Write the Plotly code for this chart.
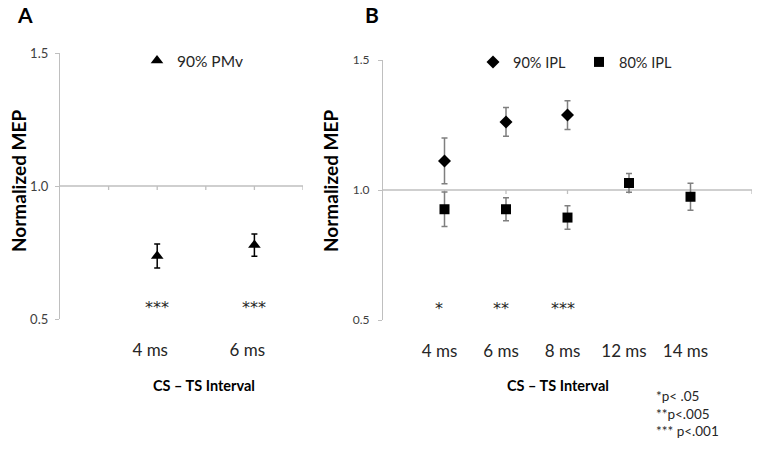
import plotly.graph_objects as go

# ---------------- data ----------------
cats_A = ["4 ms", "6 ms"]
pmv90 = [0.737, 0.778]
pmv90_err = [0.045, 0.042]
sig_A = ["***", "***"]

cats_B = ["4 ms", "6 ms", "8 ms", "12 ms", "14 ms"]
ipl90 = [1.112, 1.262, 1.288, None, None]
ipl90_err = [0.088, 0.055, 0.055, 0, 0]
ipl80 = [0.926, 0.926, 0.894, 1.027, 0.974]
ipl80_err = [0.066, 0.044, 0.045, 0.036, 0.052]
sig_B = ["*", "**", "***", "", ""]

y_ticks = [0.5, 1.0, 1.5]
footnote = ["*p< .05", "**p<.005", "*** p<.001"]

FONT = "Lato"
AX = "#bfbfbf"
TXT = "#262626"

xA = [2 * (i + 1) for i in range(len(cats_A))]
xB = [i + 1 for i in range(len(cats_B))]

fig = go.Figure()

fig.add_trace(go.Scatter(
    x=xA, y=pmv90, mode="markers", name="90% PMv", showlegend=True,
    marker=dict(symbol="triangle-up", size=11, color="black"),
    error_y=dict(type="data", array=pmv90_err, color="black", thickness=1.5, width=3),
    xaxis="x", yaxis="y", legend="legend"))

fig.add_trace(go.Scatter(
    x=xB, y=ipl90, mode="markers", name="90% IPL", showlegend=True,
    marker=dict(symbol="diamond", size=10, color="black"),
    error_y=dict(type="data", array=ipl90_err, color="#7f7f7f", thickness=1.5, width=3),
    xaxis="x2", yaxis="y2", legend="legend2"))

fig.add_trace(go.Scatter(
    x=xB, y=ipl80, mode="markers", name="80% IPL", showlegend=True,
    marker=dict(symbol="square", size=10, color="black"),
    error_y=dict(type="data", array=ipl80_err, color="#7f7f7f", thickness=1.5, width=3),
    xaxis="x2", yaxis="y2", legend="legend2"))

W, H = 762, 451
domA_x = [60 / W, 303 / W]
domA_y = [1 - 319 / H, 1 - 53 / H]
domB_x = [383 / W, 752 / W]
domB_y = [1 - 320 / H, 1 - 60 / H]

def xaxis(dom, rng, vals, text, shift, anchor):
    return dict(domain=dom, range=rng, anchor=anchor, tickvals=vals, ticktext=text,
                showline=False, showgrid=False, zeroline=False, ticks="",
                tickfont=dict(family=FONT, size=17, color=TXT), automargin=False,
                ticklabelstandoff=19, ticklabelshift=shift, fixedrange=True)

def yaxis(dom, anchor, size, standoff):
    return dict(domain=dom, range=[0.5, 1.5], anchor=anchor, tickvals=y_ticks,
                ticktext=[f"{v:.1f}" for v in y_ticks], automargin=False,
                showline=True, linecolor=AX, linewidth=1.3, ticks="outside",
                ticklen=4, tickcolor=AX, showgrid=False, zeroline=False,
                tickfont=dict(family=FONT, size=size, color="#404040"),
                ticklabelstandoff=standoff, fixedrange=True)

shapes = []
for ref, yref, n in (("x", "y", 5), ("x2", "y2", 6)):
    shapes.append(dict(type="line", xref=ref, yref=yref, x0=0, x1=n, y0=1.0, y1=1.0,
                       line=dict(color=AX, width=1.3), layer="below"))
    for k in range(1, n + 1):
        shapes.append(dict(type="line", xref=ref, yref=yref, xsizemode="scaled",
                           ysizemode="pixel", yanchor=1.0, x0=k, x1=k, y0=0, y1=-4,
                           line=dict(color=AX, width=1.3), layer="below"))

STAR = dict(family="DejaVu Sans", size=16, color=TXT)
ann = []
for x, s in zip(xA, sig_A):
    ann.append(dict(x=x, y=0.556, xref="x", yref="y", text=s, showarrow=False,
                    yshift=-3, font=STAR))
for x, s in zip(xB, sig_B):
    if s:
        ann.append(dict(x=x, y=0.556, xref="x2", yref="y2", text=s, showarrow=False,
                        xshift=-5, yshift=-3, font=STAR))

def paper(text, px, py, size, bold=True, angle=0, xanchor="center", align="center"):
    t = f"<b>{text}</b>" if bold else text
    return dict(x=px / W, y=1 - py / H, xref="paper", yref="paper", text=t,
                showarrow=False, textangle=angle, xanchor=xanchor, yanchor="middle",
                align=align, font=dict(family=FONT, size=size, color="black" if bold else TXT))

ann += [
    paper("A", 25, 15, 21),
    paper("B", 372, 15, 21),
    paper("Normalized MEP", 18, 181, 19, angle=-90),
    paper("Normalized MEP", 330, 181, 19, angle=-90),
    paper("CS – TS Interval", 204, 385, 14.5),
    paper("CS – TS Interval", 558, 385, 14.5),
    paper("<br>".join(footnote), 654, 413, 13.5, bold=False, xanchor="left", align="left"),
]

fig.update_layout(
    width=W, height=H, margin=dict(l=0, r=0, t=0, b=0, autoexpand=False),
    paper_bgcolor="white", plot_bgcolor="white", showlegend=True,
    font=dict(family=FONT, color=TXT),
    xaxis=xaxis(domA_x, [0, 5], xA, cats_A, -7, "y"),
    yaxis=yaxis(domA_y, "x", 13, 4),
    xaxis2=xaxis(domB_x, [0, 6], xB, cats_B, -5, "y2"),
    yaxis2=yaxis(domB_y, "x2", 12, 6),
    shapes=shapes, annotations=ann,
    legend=dict(x=(163 - 26) / W, y=1 - 61 / H, xanchor="left", yanchor="middle",
                orientation="h", bgcolor="rgba(0,0,0,0)",
                font=dict(family=FONT, size=15.5, color=TXT)),
    legend2=dict(x=(497 - 24) / W, y=1 - 62 / H, xanchor="left", yanchor="middle",
                 orientation="h", bgcolor="rgba(0,0,0,0)", entrywidth=61,
                 entrywidthmode="pixels",
                 font=dict(family=FONT, size=14.5, color=TXT)),
)

fig.write_html("out.html", config={"displayModeBar": False},
               post_script="document.body.style.margin='0px';")
